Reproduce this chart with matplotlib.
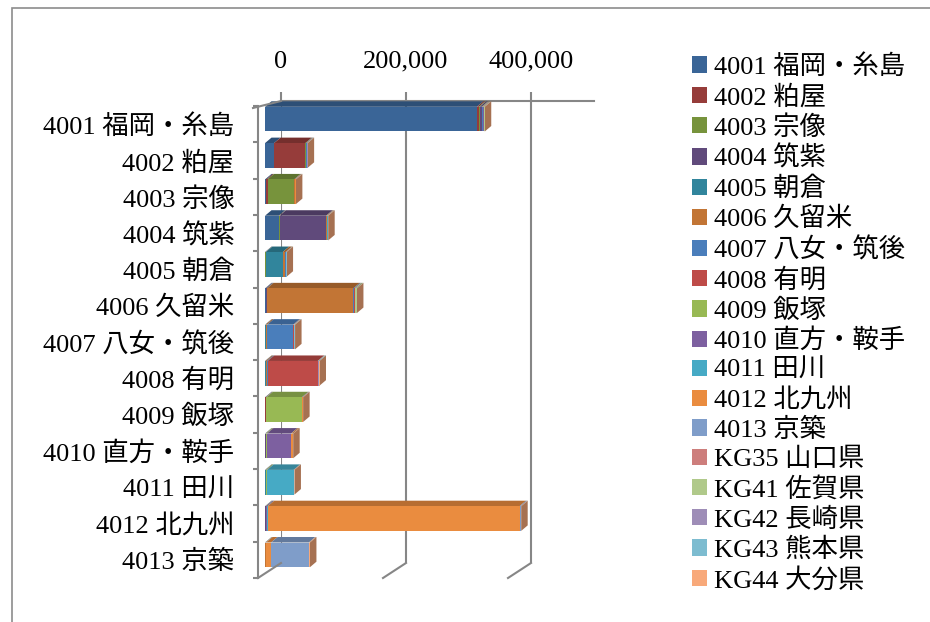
import matplotlib
matplotlib.use('Agg')
import matplotlib.pyplot as plt
import numpy as np
import matplotlib.colors as mcolors
from matplotlib.transforms import ScaledTranslation, IdentityTransform
from matplotlib.patches import Patch, Rectangle, Polygon
from matplotlib.lines import Line2D

plt.rcParams['font.family'] = ['Liberation Serif', 'Noto Sans CJK JP']
plt.rcParams['font.size'] = 19

# ---------------- data ----------------
categories = ['4001 福岡・糸島', '4002 粕屋', '4003 宗像', '4004 筑紫', '4005 朝倉',
              '4006 久留米', '4007 八女・筑後', '4008 有明', '4009 飯塚',
              '4010 直方・鞍手', '4011 田川', '4012 北九州', '4013 京築']
series = ['4001 福岡・糸島', '4002 粕屋', '4003 宗像', '4004 筑紫', '4005 朝倉',
          '4006 久留米', '4007 八女・筑後', '4008 有明', '4009 飯塚',
          '4010 直方・鞍手', '4011 田川', '4012 北九州', '4013 京築',
          'KG35 山口県', 'KG41 佐賀県', 'KG42 長崎県', 'KG43 熊本県', 'KG44 大分県']
colors = ['#3A6597', '#963C3A', '#77933C', '#604A7B', '#31859C', '#C27535',
          '#4A7EBB', '#BE4B48', '#98B954', '#7D60A0', '#46AAC5', '#EA8C3F',
          '#7F9DC9', '#CD7E7C', '#B0C98A', '#9E8DB7', '#7DBCD0', '#F8A97A']
ticks = [0, 200000, 400000]
tick_labels = ['0', '200,000', '400,000']
x_max = 500000

# one row per category, values in series order
r4001 = [339000, 3000, 1500, 3000, 500, 800, 300, 300, 1000, 500, 300, 600, 200, 100, 100, 100, 100, 200]
r4002 = [14500, 50000, 800, 500, 200, 300, 200, 200, 300, 200, 100, 300, 100, 100, 100, 100, 100, 100]
r4003 = [2000, 2000, 42500, 300, 100, 1000, 100, 100, 200, 100, 100, 300, 100, 100, 100, 100, 100, 100]
r4004 = [22000, 700, 500, 74500, 200, 1000, 200, 200, 300, 300, 100, 500, 100, 100, 100, 100, 100, 100]
r4005 = [400, 200, 300, 500, 27000, 4300, 200, 200, 300, 100, 100, 300, 100, 100, 100, 100, 100, 100]
r4006 = [800, 200, 300, 1500, 500, 138000, 1500, 600, 200, 100, 100, 300, 100, 100, 2500, 100, 100, 100]
r4007 = [300, 100, 100, 200, 300, 2500, 41500, 800, 100, 100, 100, 200, 100, 100, 300, 100, 1000, 200]
r4008 = [300, 100, 100, 200, 100, 2000, 1500, 80000, 100, 100, 100, 200, 100, 100, 500, 100, 1500, 100]
r4009 = [500, 300, 300, 500, 200, 300, 100, 100, 56600, 600, 300, 600, 100, 100, 100, 100, 100, 100]
r4010 = [300, 100, 300, 300, 100, 200, 100, 100, 1600, 38400, 300, 2700, 100, 100, 100, 100, 100, 100]
r4011 = [300, 100, 100, 200, 200, 200, 100, 100, 1800, 300, 42400, 500, 300, 100, 100, 100, 100, 100]
r4012 = [300, 100, 300, 200, 100, 300, 100, 100, 300, 2000, 500, 403000, 1500, 500, 100, 100, 100, 300]
r4013 = [200, 100, 100, 100, 100, 300, 100, 100, 200, 100, 300, 8000, 60300, 100, 100, 100, 100, 1500]

rows = [r4001, r4002, r4003, r4004, r4005, r4006, r4007, r4008, r4009,
        r4010, r4011, r4012, r4013]
values = np.array(rows, dtype=float)  # (categories, series)

# ---------------- figure ----------------
W, H = 930, 622
fig = plt.figure(figsize=(W / 100, H / 100), dpi=100)
fig.patch.set_facecolor('white')
GRAY = '#868686'


def px_rect(l, t, r, b):
    return [l / W, 1 - b / H, (r - l) / W, (b - t) / H]


# outer chart border
fig.add_artist(Rectangle((12 / W, -0.2), 1.5, 1.2 - 8 / H, transform=fig.transFigure,
                         fill=False, edgecolor='#8C8C8C', lw=1.2))

scale_w = 312.5  # px for 0..500,000

# back wall axes: top axis + vertical gridlines
axb = fig.add_axes(px_rect(281, 101, 281 + scale_w, 563))
axb.set_xlim(0, x_max)
axb.set_ylim(0, 1)
axb.patch.set_visible(False)
for s in ['left', 'right', 'bottom']:
    axb.spines[s].set_visible(False)
axb.spines['top'].set_color(GRAY)
axb.spines['top'].set_linewidth(1.5)
axb.xaxis.tick_top()
axb.set_xticks(ticks)
axb.set_xticklabels(tick_labels)
axb.tick_params(axis='x', direction='out', length=6.5, width=1.5, color=GRAY, pad=14)
axb.set_yticks([])
axb.grid(axis='x', color=GRAY, lw=1.5)

# front axes: bars + category axis on left wall
ax = fig.add_axes(px_rect(258, 106, 258 + scale_w, 578))
ax.set_xlim(0, x_max)
n = len(categories)
ax.set_ylim(n - 0.5, -0.5)
ax.patch.set_visible(False)
for s in ['top', 'right', 'bottom']:
    ax.spines[s].set_visible(False)
ax.spines['left'].set_color(GRAY)
ax.spines['left'].set_linewidth(1.5)
ax.set_xticks([])
ax.set_yticks(np.arange(n))
ax.set_yticklabels(categories)
ax.set_yticks(np.arange(n + 1) - 0.5, minor=True)
ax.tick_params(axis='y', which='major', length=0, pad=17)
ax.tick_params(axis='y', which='minor', direction='out', length=3.5, width=1.5, color=GRAY)

# floor and top-left slants (decorative frame of the 3D box)
inv = fig.transFigure.inverted()
for v in ticks:
    pb = axb.transData.transform((v, 0))
    pf = ax.transData.transform((v, n - 0.5))
    a = inv.transform(pb)
    b = inv.transform(pf)
    fig.add_artist(Line2D([a[0], b[0]], [a[1], b[1]], color=GRAY, lw=1.5,
                          transform=fig.transFigure))
pb = axb.transData.transform((0, 1))
pf = ax.transData.transform((0, -0.5))
a = inv.transform(pb)
b = inv.transform((pf[0] - 5, pf[1] - 2))
fig.add_artist(Line2D([a[0], b[0]], [a[1], b[1]], color=GRAY, lw=1.5,
                      transform=fig.transFigure))

# bars with pseudo-3D extrusion (front faces via barh, top/end faces as parallelograms)
front = ax.transData + ScaledTranslation(0.07, 0.05, fig.dpi_scale_trans)
DX, DY = 6.5, 5.5  # depth offset in pixels
bar_h = 0.68
ypos = np.arange(n)


def darker(c, f):
    r, g, b = mcolors.to_rgb(c)
    return (r * f, g * f, b * f)


lefts = np.zeros(n)
for j in range(len(series)):
    ax.barh(ypos, values[:, j], left=lefts, height=bar_h, color=colors[j],
            transform=front, zorder=3, linewidth=0)
    for i in range(n):
        w = values[i, j]
        if w <= 0:
            continue
        x0, yt = front.transform((lefts[i], ypos[i] - bar_h / 2))
        x1, _ = front.transform((lefts[i] + w, ypos[i] - bar_h / 2))
        top = Polygon([(x0, yt), (x1, yt), (x1 + DX, yt + DY), (x0 + DX, yt + DY)],
                      closed=True, transform=IdentityTransform(),
                      facecolor=darker(colors[j], 0.78), edgecolor='none',
                      zorder=2, clip_on=False)
        ax.add_patch(top)
    lefts = lefts + values[:, j]

for i in range(n):
    xr, yt = front.transform((lefts[i], ypos[i] - bar_h / 2))
    _, yb = front.transform((lefts[i], ypos[i] + bar_h / 2))
    cap = Polygon([(xr, yt), (xr + DX, yt + DY), (xr + DX, yb + DY), (xr, yb)],
                  closed=True, transform=IdentityTransform(),
                  facecolor=darker(colors[-1], 0.67), edgecolor='none',
                  zorder=2, clip_on=False)
    ax.add_patch(cap)

# legend
handles = [Patch(facecolor=c, edgecolor='none') for c in colors]
fig.legend(handles, series, loc='upper left', bbox_to_anchor=(692 / W, 1 - 54 / H),
           frameon=False, handlelength=0.57, handleheight=0.57, handletextpad=0.25,
           labelspacing=0.22, borderpad=0, borderaxespad=0, fontsize=19)

fig.savefig('out.png', dpi=100, facecolor='white')
